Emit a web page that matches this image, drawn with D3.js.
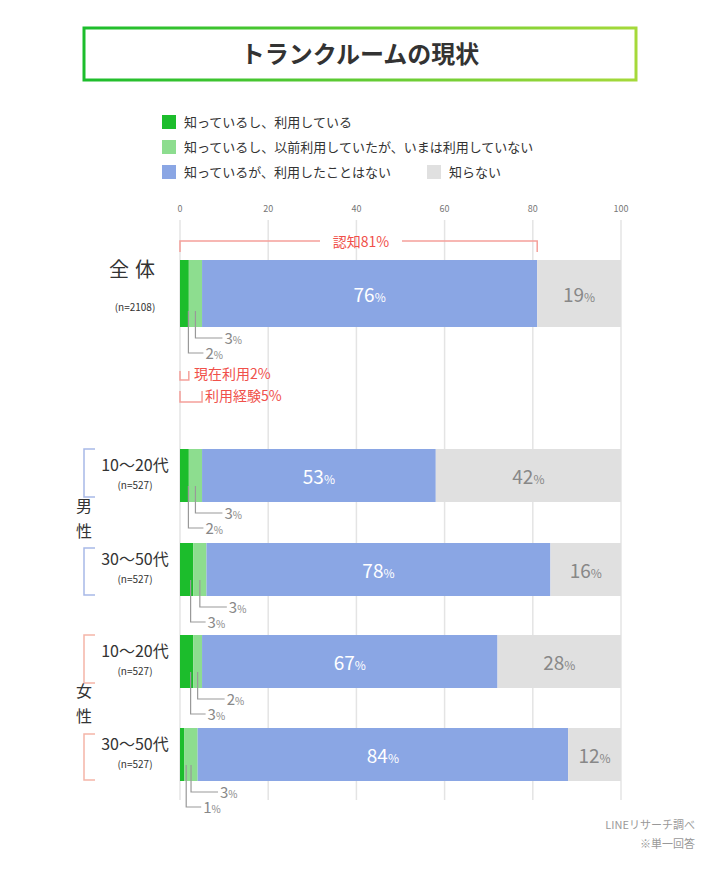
<!DOCTYPE html>
<html><head><meta charset="utf-8">
<script src="https://cdn.jsdelivr.net/npm/d3@7"></script>
<style>body{margin:0;background:#fff;font-family:"Noto Sans CJK JP","Noto Sans",sans-serif;}</style>
</head><body><svg id="c" width="720" height="869"></svg>
<script>
var groups = ["全体", "10〜20代", "30〜50代", "10〜20代", "30〜50代"];
var samples = ["(n=2108)", "(n=527)", "(n=527)", "(n=527)", "(n=527)"];
var useNow = [2, 2, 3, 3, 1];
var usedBefore = [3, 3, 3, 2, 3];
var neverUsed = [76, 53, 78, 67, 84];
var unknown = [19, 42, 16, 28, 12];
var ticks = [0, 20, 40, 60, 80, 100];
var legendNames = ["知っているし、利用している", "知っているし、以前利用していたが、いまは利用していない", "知っているが、利用したことはない", "知らない"];
var colors = ["#1cbd2c", "#8ddd8f", "#8aa6e4", "#e0e0e0"];

var svg = d3.select("#c");
var x = d3.scaleLinear().domain([0, 100]).range([180, 621]);
var barTop = [260, 449, 543, 635, 728];
var barH = [67, 53, 53, 53, 53];

// title box
var grad = svg.append("defs").append("linearGradient").attr("id", "g");
grad.append("stop").attr("offset", 0).attr("stop-color", "#1cbd2c");
grad.append("stop").attr("offset", 1).attr("stop-color", "#a5d93a");
svg.append("rect").attr("x", 84).attr("y", 28).attr("width", 552).attr("height", 52)
  .attr("fill", "#fff").attr("stroke", "url(#g)").attr("stroke-width", 3);
svg.append("text").attr("x", 360).attr("y", 63).attr("text-anchor", "middle")
  .attr("font-size", 24).attr("font-weight", "bold").attr("fill", "#333").text("トランクルームの現状");

// legend
var lp = [[162, 122], [162, 147], [162, 172], [427, 172]];
legendNames.forEach((n, i) => {
  svg.append("rect").attr("x", lp[i][0]).attr("y", lp[i][1] - 7).attr("width", 14).attr("height", 14).attr("fill", colors[i]);
  svg.append("text").attr("x", lp[i][0] + 22).attr("y", lp[i][1] + 5).attr("font-size", 13).attr("fill", "#333").text(n);
});

// grid + axis
ticks.forEach(t => {
  svg.append("line").attr("x1", x(t)).attr("x2", x(t)).attr("y1", 220).attr("y2", 800)
    .attr("stroke", "#e4e4e4").attr("stroke-width", 1.5);
  svg.append("text").attr("x", x(t)).attr("y", 212).attr("text-anchor", "middle")
    .attr("font-size", 9).attr("fill", "#777").text(t);
});

// bars
groups.forEach((g, i) => {
  var vals = [useNow[i], usedBefore[i], neverUsed[i], unknown[i]];
  var acc = 0, y0 = barTop[i], h = barH[i];
  vals.forEach((v, k) => {
    svg.append("rect").attr("x", x(acc)).attr("y", y0).attr("width", x(acc + v) - x(acc))
      .attr("height", h).attr("fill", colors[k]);
    if (k >= 2) {
      var t = svg.append("text").attr("x", x(acc + v / 2)).attr("y", y0 + h / 2 + 8)
        .attr("text-anchor", "middle").attr("font-size", 19).attr("fill", k == 2 ? "#fff" : "#888");
      t.append("tspan").text(v);
      t.append("tspan").attr("font-size", 12).text("%");
    }
    acc += v;
  });
  // leaders
  var yb = y0 + h;
  var a = x(useNow[i] / 2) + 4, b = x(useNow[i] + usedBefore[i] / 2);
  var lines = [[a, yb + 26, useNow[i]], [b, yb + 11, usedBefore[i]]];
  lines.forEach(l => {
    svg.append("path").attr("d", `M${l[0]},${y0 + h - 16}V${l[1]}H${l[0] + 15 + (l === lines[1] ? 12 : 0)}`)
      .attr("fill", "none").attr("stroke", "#999").attr("stroke-width", 1.2);
    var t = svg.append("text").attr("x", l[0] + 17 + (l === lines[1] ? 12 : 0)).attr("y", l[1] + 6)
      .attr("font-size", 15).attr("fill", "#888");
    t.append("tspan").text(l[2]);
    t.append("tspan").attr("font-size", 10).text("%");
  });
  // labels
  if (i == 0) {
    svg.append("text").attr("x", 135).attr("y", 277).attr("text-anchor", "middle").attr("font-size", 20)
      .attr("fill", "#333").attr("letter-spacing", 6).text(g);
    svg.append("text").attr("x", 135).attr("y", 311).attr("text-anchor", "middle").attr("font-size", 10)
      .attr("fill", "#333").text(samples[i]);
  } else {
    svg.append("text").attr("x", 135).attr("y", y0 + 22).attr("text-anchor", "middle").attr("font-size", 16)
      .attr("fill", "#333").text(g);
    svg.append("text").attr("x", 135).attr("y", y0 + 40).attr("text-anchor", "middle").attr("font-size", 10)
      .attr("fill", "#333").text(samples[i]);
  }
});

// recognition annotation
var red = "#f0504a", redl = "#f5a09a";
var sum81 = useNow[0] + usedBefore[0] + neverUsed[0];
svg.append("path").attr("d", `M${x(0)},252V241H320M402,241H${x(sum81)}V252`).attr("fill", "none").attr("stroke", redl).attr("stroke-width", 1.5);
svg.append("text").attr("x", 361).attr("y", 247).attr("text-anchor", "middle").attr("font-size", 14).attr("fill", red).text("認知" + sum81 + "%");
svg.append("path").attr("d", `M${x(0)},371V380H${x(useNow[0])}V371`).attr("fill", "none").attr("stroke", redl).attr("stroke-width", 1.5);
svg.append("text").attr("x", 194).attr("y", 379).attr("font-size", 14).attr("fill", red).text("現在利用" + useNow[0] + "%");
svg.append("path").attr("d", `M${x(0)},391V402H${x(useNow[0] + usedBefore[0])}V391`).attr("fill", "none").attr("stroke", redl).attr("stroke-width", 1.5);
svg.append("text").attr("x", 205).attr("y", 401).attr("font-size", 14).attr("fill", red).text("利用経験" + (useNow[0] + usedBefore[0]) + "%");

// gender brackets
function bracket(y1, y2, col) {
  svg.append("path").attr("d", `M95,${y1}H84V${y2}H95`).attr("fill", "none").attr("stroke", col).attr("stroke-width", 1.5);
}
bracket(449, 497, "#a8b9e8"); bracket(548, 595, "#a8b9e8");
bracket(635, 683, "#f5b5a8"); bracket(734, 780, "#f5b5a8");
[["男", 512], ["性", 537], ["女", 697], ["性", 722]].forEach(d => {
  svg.append("text").attr("x", 84).attr("y", d[1]).attr("text-anchor", "middle").attr("font-size", 16).attr("fill", "#333").text(d[0]);
});

svg.append("text").attr("x", 695).attr("y", 829).attr("text-anchor", "end").attr("font-size", 11).attr("fill", "#999").text("LINEリサーチ調べ");
svg.append("text").attr("x", 695).attr("y", 848).attr("text-anchor", "end").attr("font-size", 11).attr("fill", "#999").text("※単一回答");
</script></body></html>
